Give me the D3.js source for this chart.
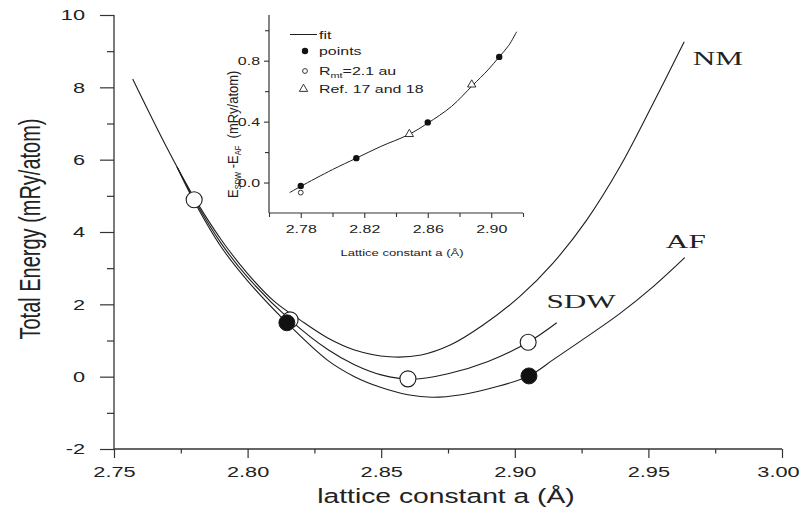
<!DOCTYPE html>
<html><head><meta charset="utf-8">
<script src="https://cdn.jsdelivr.net/npm/d3@7"></script>
<style>body{margin:0;background:#fff}svg{display:block}</style>
</head><body>
<svg id="c" width="803" height="519"></svg>
<script>
// ---- main plot data ----
const nmX  = [2.757, 2.770, 2.780, 2.790, 2.800, 2.810, 2.8196, 2.830, 2.840, 2.853, 2.865, 2.876, 2.888, 2.9019, 2.9143, 2.9269, 2.9394, 2.9518, 2.9634];
const nmY  = [8.23, 6.30, 4.95, 3.80, 2.85, 2.08, 1.57, 1.07, 0.74, 0.55, 0.60, 0.88, 1.42, 2.22, 3.14, 4.33, 5.81, 7.56, 9.26];
const sdwX = [2.7736, 2.780, 2.790, 2.800, 2.8159, 2.830, 2.840, 2.850, 2.862, 2.875, 2.890, 2.905, 2.9157];
const sdwY = [5.80, 4.90, 3.70, 2.75, 1.57, 0.75, 0.33, 0.05, -0.07, 0.08, 0.42, 0.95, 1.49];
const afX  = [2.7736, 2.780, 2.790, 2.800, 2.8147, 2.830, 2.840, 2.850, 2.860, 2.869, 2.880, 2.892, 2.9053, 2.9144, 2.9269, 2.9394, 2.9518, 2.9636];
const afY  = [5.80, 4.85, 3.60, 2.65, 1.49, 0.45, 0.00, -0.30, -0.50, -0.57, -0.50, -0.30, 0.02, 0.47, 1.10, 1.75, 2.49, 3.29];
const sdwPtsX = [2.780, 2.8159, 2.860, 2.905];
const sdwPtsY = [4.89, 1.57, -0.06, 0.95];
const afPtsX  = [2.8147, 2.9053];
const afPtsY  = [1.49, 0.02];
const curveLabels = ["NM", "SDW", "AF"];
const labelX = [2.976, 2.9248, 2.964];
const labelY = [8.62, 1.90, 3.56];
const mainXTicks = [2.75, 2.80, 2.85, 2.90, 2.95, 3.00];
const mainYTicks = [-2, 0, 2, 4, 6, 8, 10];

// ---- inset data ----
const fitX = [2.773, 2.780, 2.800, 2.815, 2.830, 2.848, 2.860, 2.875, 2.888, 2.898, 2.905, 2.911, 2.916];
const fitY = [-0.066, -0.025, 0.085, 0.160, 0.235, 0.315, 0.390, 0.500, 0.635, 0.740, 0.825, 0.900, 0.990];
const ptsX = [2.780, 2.815, 2.860, 2.905];
const ptsY = [-0.022, 0.160, 0.395, 0.825];
const rmtX = [2.780];
const rmtY = [-0.066];
const refX = [2.8484, 2.8877];
const refY = [0.318, 0.643];
const insetXTicks = [2.78, 2.82, 2.86, 2.90];
const insetYTicks = [0.0, 0.4, 0.8];

const S = 1.45; // horizontal stretch of the original figure's text
const ink = "#1e1e1e";
const sans = "Liberation Sans, Arial, sans-serif";
const svg = d3.select("#c");

const x = d3.scaleLinear([2.75, 3.0], [114, 782]);
const y = d3.scaleLinear([-2, 10], [449, 15]);
const xi = d3.scaleLinear([2.76, 2.92], [269, 523]);
const yi = d3.scaleLinear([-0.2, 1.1], [213, 15]);

function stretchText(sel){
  sel.each(function(){
    const t = d3.select(this);
    const tx = +t.attr("x") || 0;
    t.attr("x", 0).attr("transform", `translate(${tx},0) scale(${S},1)`);
  });
}
const hyph = f => v => f(v).replace("\u2212", "-");

// ---- main axes ----
const gy = svg.append("g").attr("transform", "translate(114,0)")
  .call(d3.axisLeft(y).tickValues(mainYTicks).tickSize(14).tickFormat(hyph(d3.format("d"))));
const gym = svg.append("g").attr("transform", "translate(114,0)")
  .call(d3.axisLeft(y).tickValues([-1,1,3,5,7,9]).tickSize(7).tickFormat(""));
const gx = svg.append("g").attr("transform", "translate(0,449)")
  .call(d3.axisBottom(x).tickValues(mainXTicks).tickSize(9).tickFormat(d3.format(".2f")));
const gxm = svg.append("g").attr("transform", "translate(0,449)")
  .call(d3.axisBottom(x).tickValues([2.775, 2.825, 2.875, 2.925, 2.975]).tickSize(4.5).tickFormat(""));
[gy, gym, gx, gxm].forEach(g => {
  g.select(".domain").attr("stroke", "#333").attr("stroke-width", 1.3);
  g.selectAll(".tick line").attr("stroke", "#333").attr("stroke-width", 1.2);
  g.selectAll("text").attr("font-family", sans).attr("font-size", 15).attr("fill", "#222");
});
gy.selectAll(".domain").attr("d", "M0,449V15");
gym.selectAll(".domain").remove();
gxm.selectAll(".domain").remove();
gx.selectAll(".domain").attr("d", "M114,0H782");
gy.selectAll("text").attr("x", -29).call(stretchText);
gx.selectAll("text").attr("dy", "0").attr("y", 28).attr("x", (d, i) => i === mainXTicks.length - 1 ? -4 : 0).call(stretchText);

// axis titles
svg.append("text").attr("transform", `translate(40,229) scale(${S},1) rotate(-90)`)
  .attr("text-anchor", "middle").attr("font-family", sans)
  .attr("font-size", 20).attr("fill", "#222").text("Total Energy (mRy/atom)");
svg.append("text").attr("transform", `translate(446,503) scale(${S},1)`)
  .attr("text-anchor", "middle").attr("font-family", sans)
  .attr("font-size", 19.5).attr("fill", "#222").text("lattice constant a (\u00C5)");

// ---- main curves ----
const line = d3.line().x(d => x(d[0])).y(d => y(d[1])).curve(d3.curveCatmullRom.alpha(0.5));
const curves = [[nmX, nmY], [sdwX, sdwY], [afX, afY]];
curves.forEach(([xs, ys]) => {
  svg.append("path").attr("d", line(d3.zip(xs, ys))).attr("fill", "none")
    .attr("stroke", ink).attr("stroke-width", 1.1);
});
svg.append("g").selectAll("circle").data(d3.zip(sdwPtsX, sdwPtsY)).join("circle")
  .attr("cx", d => x(d[0])).attr("cy", d => y(d[1])).attr("r", 8)
  .attr("fill", "#fff").attr("stroke", ink).attr("stroke-width", 1.1);
svg.append("g").selectAll("circle").data(d3.zip(afPtsX, afPtsY)).join("circle")
  .attr("cx", d => x(d[0])).attr("cy", d => y(d[1])).attr("r", 8)
  .attr("fill", "#111").attr("stroke", ink).attr("stroke-width", 1);
curveLabels.forEach((t, i) => {
  svg.append("text").attr("transform", `translate(${x(labelX[i])},${y(labelY[i])}) scale(1.6,1)`)
    .attr("text-anchor", "middle").attr("font-family", "Liberation Serif, Times New Roman, serif")
    .attr("font-size", 19.5).attr("fill", "#222").text(t);
});

// ---- inset ----
const ix = svg.append("g").attr("transform", "translate(0,213)")
  .call(d3.axisBottom(xi).tickValues(insetXTicks).tickSize(5).tickFormat(d3.format(".2f")));
const ixm = svg.append("g").attr("transform", "translate(0,213)")
  .call(d3.axisBottom(xi).tickValues([2.76, 2.80, 2.84, 2.88, 2.92]).tickSize(4).tickFormat(""));
const iy = svg.append("g").attr("transform", "translate(269,0)")
  .call(d3.axisLeft(yi).tickValues(insetYTicks).tickSize(5).tickFormat(d3.format(".1f")));
const iym = svg.append("g").attr("transform", "translate(269,0)")
  .call(d3.axisLeft(yi).tickValues([0.2, 0.6, 1.0]).tickSize(4).tickFormat(""));
[ix, ixm, iy, iym].forEach(g => {
  g.select(".domain").attr("stroke", "#333").attr("stroke-width", 1.2);
  g.selectAll(".tick line").attr("stroke", "#333").attr("stroke-width", 1.1);
  g.selectAll("text").attr("font-family", sans).attr("font-size", 11).attr("fill", "#222");
});
ix.select(".domain").attr("d", "M269,0H523");
iy.select(".domain").attr("d", "M0,213V15");
ixm.select(".domain").remove();
iym.select(".domain").remove();
ix.selectAll("text").attr("dy", 0).attr("y", 20).call(stretchText);
iy.selectAll("text").attr("x", -9).call(stretchText);

svg.append("text").attr("transform", `translate(402,256) scale(${S},1)`)
  .attr("text-anchor", "middle").attr("font-family", sans)
  .attr("font-size", 9).attr("fill", "#222").text("Lattice constant a (\u00C5)");

const yl = svg.append("text").attr("transform", `translate(238,198) scale(1.12,1) rotate(-90)`)
  .attr("font-family", sans).attr("font-size", 13).attr("fill", "#222");
yl.append("tspan").text("E");
yl.append("tspan").attr("font-size", 7.5).attr("dy", 3).text("SDW");
yl.append("tspan").attr("dy", -3).text("\u00A0-E");
yl.append("tspan").attr("font-size", 7.5).attr("dy", 3).text("AF");
yl.append("tspan").attr("dy", -3).text("\u00A0\u00A0(mRy/atom)");

const iline = d3.line().x(d => xi(d[0])).y(d => yi(d[1])).curve(d3.curveCatmullRom.alpha(0.5));
svg.append("path").attr("d", iline(d3.zip(fitX, fitY))).attr("fill", "none")
  .attr("stroke", ink).attr("stroke-width", 1);
svg.append("g").selectAll("circle").data(d3.zip(rmtX, rmtY)).join("circle")
  .attr("cx", d => xi(d[0])).attr("cy", d => yi(d[1])).attr("r", 2.4)
  .attr("fill", "#fff").attr("stroke", ink).attr("stroke-width", 0.9);
svg.append("g").selectAll("circle").data(d3.zip(ptsX, ptsY)).join("circle")
  .attr("cx", d => xi(d[0])).attr("cy", d => yi(d[1])).attr("r", 3.2).attr("fill", "#111");
const tri = d3.symbol().type(d3.symbolTriangle).size(30);
svg.append("g").selectAll("path").data(d3.zip(refX, refY)).join("path")
  .attr("transform", d => `translate(${xi(d[0])},${yi(d[1])})`).attr("d", tri)
  .attr("fill", "#fff").attr("stroke", ink).attr("stroke-width", 0.9);

// legend
const lg = svg.append("g").attr("font-family", sans).attr("font-size", 11).attr("fill", "#222");
lg.append("line").attr("x1", 290).attr("x2", 317).attr("y1", 34.5).attr("y2", 34.5).attr("stroke", ink).attr("stroke-width", 1);
lg.append("circle").attr("cx", 305).attr("cy", 51).attr("r", 3.2).attr("fill", "#111");
lg.append("circle").attr("cx", 305).attr("cy", 71).attr("r", 2.4).attr("fill", "#fff").attr("stroke", ink).attr("stroke-width", 0.9);
lg.append("path").attr("transform", "translate(303.5,89)").attr("d", tri).attr("fill", "#fff").attr("stroke", ink).attr("stroke-width", 0.9);
const legendTexts = ["fit", "points", null, "Ref. 17 and 18"];
const legendY = [38.5, 55, 75, 93];
legendTexts.forEach((t, i) => {
  const tx = lg.append("text").attr("transform", `translate(319,${legendY[i]}) scale(${S},1)`);
  if (t) tx.text(t);
  else {
    tx.append("tspan").text("R");
    tx.append("tspan").attr("font-size", 7.5).attr("dy", 2.5).text("mt");
    tx.append("tspan").attr("dy", -2.5).text("=2.1 au");
  }
});
</script>
</body></html>
